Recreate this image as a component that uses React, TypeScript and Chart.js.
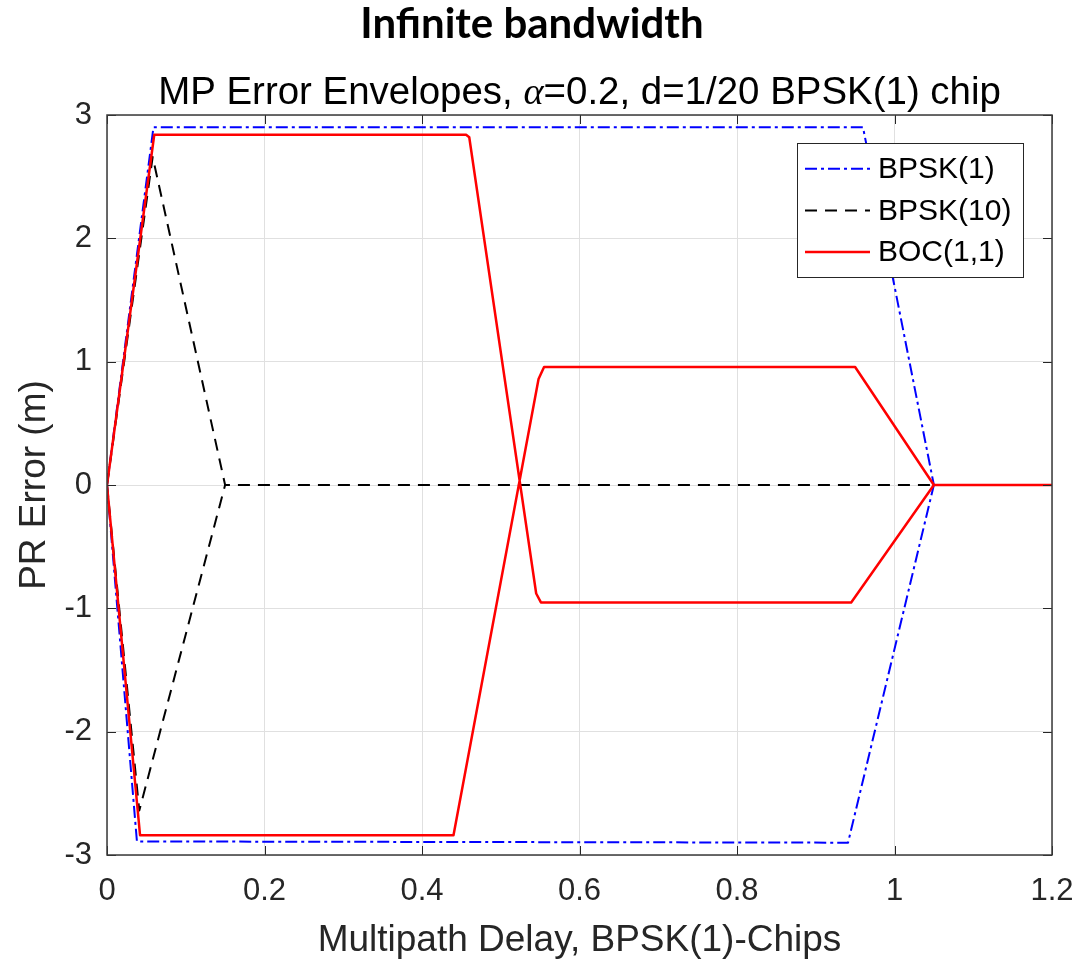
import React, { useEffect, useRef } from 'react';
import { Chart, registerables } from 'chart.js';

Chart.register(...registerables);

const W = 1081;
const H = 961;
const SANS = '"Liberation Sans", Arial, Helvetica, sans-serif';

const mainTitle = 'Infinite bandwidth';
const subTitleParts = ['MP Error Envelopes, ', 'α', '=0.2, d=1/20 BPSK(1) chip'];
const xAxisTitle = 'Multipath Delay, BPSK(1)-Chips';
const yAxisTitle = 'PR Error (m)';

const xTickValues = [0, 0.2, 0.4, 0.6, 0.8, 1, 1.2];
const xTickLabels = ['0', '0.2', '0.4', '0.6', '0.8', '1', '1.2'];
const yTickValues = [-3, -2, -1, 0, 1, 2, 3];
const yTickLabels = ['-3', '-2', '-1', '0', '1', '2', '3'];

const seriesNames = ['BPSK(1)', 'BPSK(10)', 'BOC(1,1)'];

// null separates the upper and lower envelope branches
const bpsk1X = [0, 0.059, 0.96, 1.05, 1.2, null, 0, 0.038, 0.941, 1.05];
const bpsk1Y = [0, 2.9, 2.9, 0, 0, null, 0, -2.89, -2.9, 0];

const bpsk10X = [0, 0.058, 0.15, 1.2, null, 0, 0.041, 0.15];
const bpsk10Y = [0, 2.66, 0, 0, null, 0, -2.64, 0];

const boc11X = [0, 0.06, 0.456, 0.46, 0.545, 0.551, 0.945, 1.05, 1.2, null, 0, 0.042, 0.44, 0.548, 0.555, 0.95, 1.05];
const boc11Y = [0, 2.84, 2.84, 2.82, -0.88, -0.952, -0.952, 0, 0, null, 0, -2.84, -2.84, 0.86, 0.957, 0.957, 0];

function toPoints(xs: (number | null)[], ys: (number | null)[]) {
  let last = 0;
  return xs.map((x, i) => {
    if (x !== null) last = x;
    return { x: x === null ? last : x, y: ys[i] };
  });
}

const styles = [
  { color: '#0000ff', dash: [12, 4, 3, 4], width: 2 },
  { color: '#000000', dash: [12, 8], width: 2 },
  { color: '#ff0000', dash: [] as number[], width: 2.5 },
];

const overlayPlugin = {
  id: 'overlay',
  afterDraw(chart: any) {
    const { ctx, chartArea: a, scales } = chart;
    ctx.save();

    // inner tick marks
    ctx.strokeStyle = '#262626';
    ctx.lineWidth = 1;
    const tl = 9;
    ctx.beginPath();
    xTickValues.forEach((v) => {
      const px = Math.round(scales.x.getPixelForValue(v)) + 0.5;
      ctx.moveTo(px, a.bottom); ctx.lineTo(px, a.bottom - tl);
      ctx.moveTo(px, a.top); ctx.lineTo(px, a.top + tl);
    });
    yTickValues.forEach((v) => {
      const py = Math.round(scales.y.getPixelForValue(v)) + 0.5;
      ctx.moveTo(a.left, py); ctx.lineTo(a.left + tl, py);
      ctx.moveTo(a.right, py); ctx.lineTo(a.right - tl, py);
    });
    ctx.stroke();

    // box
    ctx.strokeStyle = '#3a3a3a';
    ctx.lineWidth = 1.5;
    ctx.strokeRect(a.left, a.top, a.right - a.left, a.bottom - a.top);

    // legend
    const lx = 797, ly = 143, lw = 226, lh = 134;
    ctx.fillStyle = '#ffffff';
    ctx.fillRect(lx, ly, lw, lh);
    ctx.strokeStyle = '#262626';
    ctx.lineWidth = 1;
    ctx.strokeRect(lx + 0.5, ly + 0.5, lw, lh);
    const rows = [168.7, 210.5, 252];
    ctx.font = `30px ${SANS}`;
    ctx.textAlign = 'left';
    ctx.textBaseline = 'middle';
    seriesNames.forEach((name, i) => {
      const s = styles[i];
      ctx.strokeStyle = s.color;
      ctx.lineWidth = s.width;
      ctx.setLineDash(s.dash);
      ctx.beginPath();
      ctx.moveTo(805, rows[i]);
      ctx.lineTo(870, rows[i]);
      ctx.stroke();
      ctx.setLineDash([]);
      ctx.fillStyle = '#000000';
      ctx.fillText(name, 878, rows[i] + 1);
    });

    // main title
    ctx.fillStyle = '#000000';
    ctx.textBaseline = 'alphabetic';
    ctx.textAlign = 'center';
    let ts = 36;
    ctx.font = `bold ${ts}px Lato, "Open Sans", sans-serif`;
    const tw = ctx.measureText(mainTitle).width;
    ts = Math.max(30, Math.min(42, ts * 366 / tw));
    ctx.font = `bold ${ts}px Lato, "Open Sans", sans-serif`;
    ctx.fillText(mainTitle, 532, 38);

    // subtitle
    let ss = 34;
    const fonts = (s: number) => [`${s}px ${SANS}`, `italic ${s}px "Liberation Serif", "DejaVu Serif", serif`, `${s}px ${SANS}`];
    const measure = (s: number) => {
      const f = fonts(s);
      return subTitleParts.map((p, i) => { ctx.font = f[i]; return ctx.measureText(p).width; });
    };
    let widths = measure(ss);
    let total = widths.reduce((p, c) => p + c, 0);
    ss = ss * 843 / total;
    widths = measure(ss);
    total = widths.reduce((p, c) => p + c, 0);
    const f2 = fonts(ss);
    let sx = (a.left + a.right) / 2 - total / 2;
    ctx.textAlign = 'left';
    subTitleParts.forEach((p, i) => {
      ctx.font = f2[i];
      ctx.fillText(p, sx, 104);
      sx += widths[i];
    });

    // axis titles
    ctx.fillStyle = '#262626';
    ctx.font = `37px ${SANS}`;
    ctx.textAlign = 'center';
    ctx.fillText(xAxisTitle, (a.left + a.right) / 2, 951);
    ctx.save();
    ctx.translate(45, (a.top + a.bottom) / 2);
    ctx.rotate(-Math.PI / 2);
    ctx.fillText(yAxisTitle, 0, 0);
    ctx.restore();

    ctx.restore();
  },
};

export default function App() {
  const ref = useRef<HTMLCanvasElement | null>(null);

  useEffect(() => {
    if (!ref.current) return;
    const mk = (label: string, xs: (number | null)[], ys: (number | null)[], i: number, order: number) => ({
      label,
      data: toPoints(xs, ys),
      showLine: true,
      borderColor: styles[i].color,
      backgroundColor: styles[i].color,
      borderWidth: styles[i].width,
      borderDash: styles[i].dash,
      borderJoinStyle: 'round' as const,
      pointRadius: 0,
      pointHoverRadius: 0,
      fill: false,
      spanGaps: false,
      tension: 0,
      order,
    });
    const chart = new Chart(ref.current, {
      type: 'scatter',
      data: {
        datasets: [
          mk(seriesNames[0], bpsk1X, bpsk1Y, 0, 3),
          mk(seriesNames[1], bpsk10X, bpsk10Y, 1, 2),
          mk(seriesNames[2], boc11X, boc11Y, 2, 1),
        ],
      },
      options: {
        responsive: false,
        animation: false,
        events: [],
        layout: { padding: { top: 115, right: 29, left: 0, bottom: 0 } },
        plugins: {
          legend: { display: false },
          title: { display: false },
          tooltip: { enabled: false },
        },
        scales: {
          x: {
            type: 'linear',
            min: 0,
            max: 1.2,
            afterBuildTicks: (s: any) => { s.ticks = xTickValues.map((v) => ({ value: v })); },
            afterFit: (s: any) => {
              s.height = H - 855;
              s.paddingLeft = 0; s.paddingRight = 0; s.paddingTop = 0; s.paddingBottom = 0;
            },
            ticks: {
              autoSkip: false,
              maxRotation: 0,
              padding: 18,
              color: '#262626',
              font: { family: SANS, size: 31 },
              callback: (_v: any, i: number) => xTickLabels[i],
            },
            grid: { color: '#e0e0e0', lineWidth: 1, drawTicks: false },
            border: { display: false },
          },
          y: {
            type: 'linear',
            min: -3,
            max: 3,
            afterBuildTicks: (s: any) => { s.ticks = yTickValues.map((v) => ({ value: v })); },
            afterFit: (s: any) => {
              s.width = 107;
              s.paddingLeft = 0; s.paddingRight = 0; s.paddingTop = 0; s.paddingBottom = 0;
            },
            ticks: {
              autoSkip: false,
              padding: 15,
              color: '#262626',
              font: { family: SANS, size: 31 },
              callback: (_v: any, i: number) => yTickLabels[i],
            },
            grid: { color: '#e0e0e0', lineWidth: 1, drawTicks: false },
            border: { display: false },
          },
        },
      },
      plugins: [overlayPlugin],
    } as any);
    return () => chart.destroy();
  }, []);

  return (
    <div style={{ position: 'fixed', left: 0, top: 0, width: W, height: H, background: '#ffffff' }}>
      <canvas ref={ref} width={W} height={H} style={{ display: 'block', width: W, height: H }} />
    </div>
  );
}
